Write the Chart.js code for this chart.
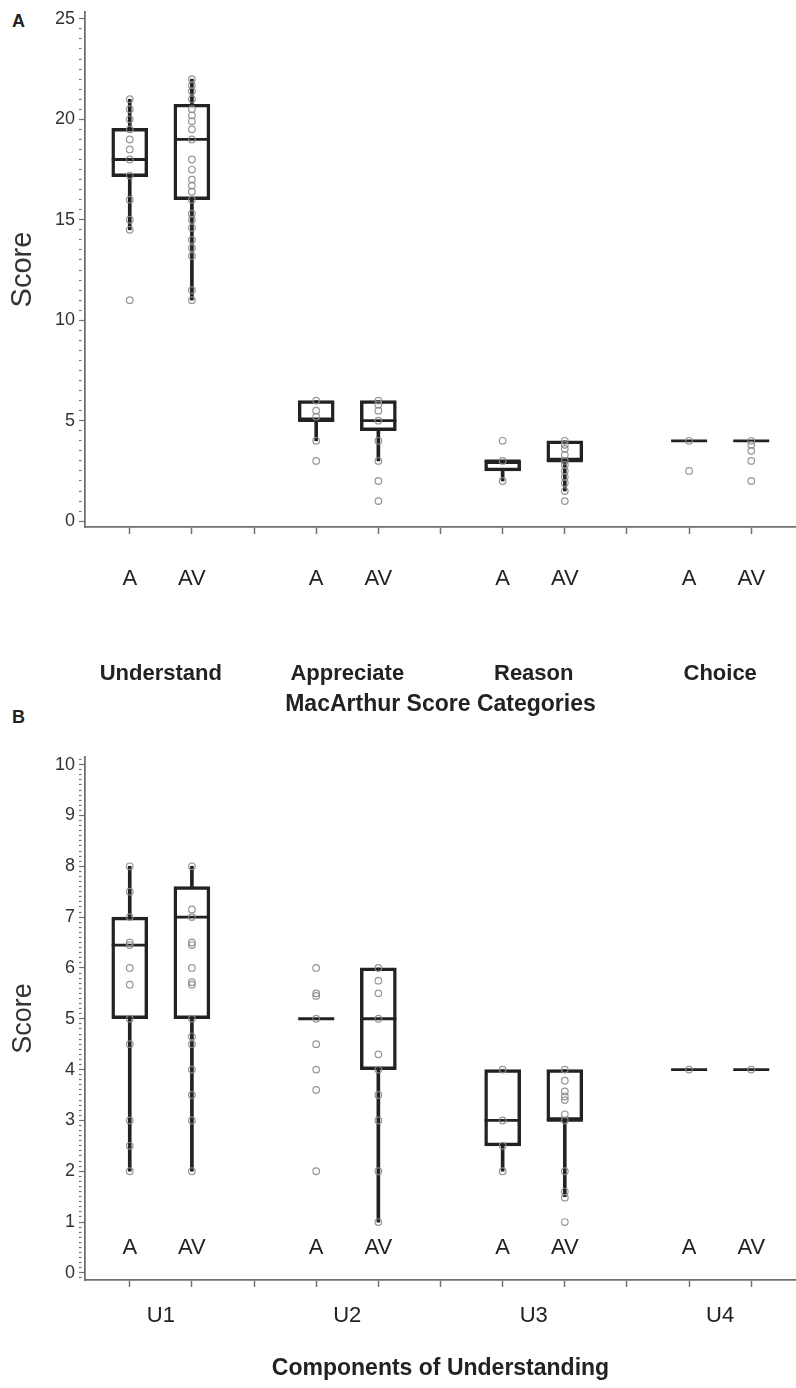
<!DOCTYPE html>
<html>
<head>
<meta charset="utf-8">
<script src="https://cdn.jsdelivr.net/npm/chart.js@4.4.0/dist/chart.umd.min.js"></script>
<style>
  body { margin: 0; background: #fff; width: 796px; height: 1388px; position: relative; overflow: hidden; font-family: "Liberation Sans", Arial, sans-serif; }
  canvas { position: absolute; left: 0; }
  .tag { position: absolute; left: 12px; font-weight: bold; font-size: 18px; color: #222; }
</style>
</head>
<body>
<div class="tag" style="top:11px">A</div>
<div class="tag" style="top:707px">B</div>
<canvas id="chartA" width="796" height="730" style="top:-10px"></canvas>
<canvas id="chartB" width="796" height="688" style="top:700px"></canvas>

<script>
// arms within each group
var armLabels = ['A', 'AV'];

// panel A - MacArthur categories
var groupsA = ['Understand', 'Appreciate', 'Reason', 'Choice'];
var q1A  = [17.15, 16.0, 5, 4.5, 2.5, 3, 4, 4];
var medA = [18, 19, 5, 5, 3, 3, 4, 4];
var q3A  = [19.55, 20.75, 6, 6, 3, 4, 4, 4];
var loA  = [14.5, 11, 4, 3, 2, 1.5, 4, 4];
var hiA  = [21, 22, 6, 6, 3, 4, 4, 4];
var ptsA = [
    [21, 20.5, 20, 19.5, 19, 18.5, 18, 17.2, 16, 15, 14.5, 11],
    [22, 21.7, 21.4, 21, 20.5, 20.2, 19.9, 19.5, 19, 18, 17.5, 17, 16.7, 16.4, 16, 15.3, 15, 14.6, 14, 13.6, 13.2, 11.5, 11],
    [6, 5.5, 5.2, 4, 3],
    [6, 5.8, 5.5, 5, 4, 3, 2, 1],
    [4, 3, 2],
    [4, 3.8, 3.6, 3.3, 3, 2.8, 2.5, 2.2, 1.9, 1.5, 1],
    [4, 2.5],
    [4, 3.8, 3.5, 3, 2]
];

// panel B - components of understanding
var groupsB = ['U1', 'U2', 'U3', 'U4'];
var q1B  = [5, 5, 5, 4, 2.5, 3, 4, 4];
var medB = [6.45, 7, 5, 5, 3, 3, 4, 4];
var q3B  = [7, 7.6, 5, 6, 4, 4, 4, 4];
var loB  = [2, 2, 5, 1, 2, 1.5, 4, 4];
var hiB  = [8, 8, 5, 6, 4, 4, 4, 4];
var ptsB = [
    [8, 7.5, 7, 6.5, 6.45, 6, 5.67, 5, 4.5, 3, 2.5, 2],
    [8, 7.15, 7, 6.5, 6.45, 6, 5.72, 5.67, 5, 4.65, 4.5, 4, 3.5, 3, 2],
    [6, 5.5, 5.45, 5, 4.5, 4, 3.6, 2],
    [6, 5.75, 5.5, 5, 4.3, 4, 3.5, 3, 2, 1],
    [4, 3, 2.5, 2],
    [4, 3.78, 3.57, 3.47, 3.4, 3.12, 3, 2, 1.6, 1.48, 1],
    [4],
    [4]
];

var FONT = '"Liberation Sans", Arial, sans-serif';
var INK = '#222';
var AXIS = '#707070';

// slot on the x axis: groups of 2 boxes with an empty slot between groups
function slotOf(i) {
    return Math.floor(i / 2) * 3 + (i % 2) + 1;
}

function isMultiple(v, step) {
    return Math.abs(v / step - Math.round(v / step)) < 1e-6;
}

// keep the plot area where we put it, whatever the labels want
function noPadding(s) {
    s.paddingLeft = 0;
    s.paddingRight = 0;
    s.paddingTop = 0;
    s.paddingBottom = 0;
}

// draws the A / AV labels inside the plot area (panel B)
var innerLabels = {
    id: 'innerLabels',
    afterDatasetsDraw: function (chart) {
        var ctx = chart.ctx;
        var x = chart.scales.x, y = chart.scales.y;
        ctx.save();
        ctx.font = '22px ' + FONT;
        ctx.fillStyle = INK;
        ctx.textAlign = 'center';
        ctx.textBaseline = 'middle';
        for (var i = 0; i < 8; i++) {
            ctx.fillText(armLabels[i % 2], x.getPixelForValue(slotOf(i)), y.getPixelForValue(0.5));
        }
        ctx.restore();
    }
};

function buildChart(id, p) {
    var boxes = [], medians = [], lower = [], upper = [], points = [];
    for (var i = 0; i < 8; i++) {
        var s = slotOf(i);
        boxes.push({ x: s, y: [p.q1[i], p.q3[i]] });
        medians.push({ x: s, y: p.med[i] });
        lower.push({ x: s, y: [p.lo[i], p.q1[i]] });
        upper.push({ x: s, y: [p.q3[i], p.hi[i]] });
        p.pts[i].forEach(function (v) {
            points.push({ x: s, y: v });
        });
    }

    var xRange = { min: 0.28, max: 11.72 };

    return new Chart(document.getElementById(id).getContext('2d'), {
        type: 'bar',
        data: {
            datasets: [
                {
                    type: 'scatter',
                    data: points,
                    pointStyle: 'circle',
                    pointRadius: 3.3,
                    borderWidth: 1.2,
                    borderColor: 'rgba(140,140,140,0.9)',
                    backgroundColor: 'rgba(0,0,0,0)',
                    order: 0
                },
                {
                    type: 'scatter',
                    data: medians,
                    pointStyle: 'line',
                    pointRadius: 18,
                    borderWidth: 2.8,
                    borderColor: INK,
                    order: 1
                },
                {
                    data: boxes,
                    barThickness: 36,
                    grouped: false,
                    borderWidth: 2.8,
                    borderSkipped: false,
                    borderColor: INK,
                    backgroundColor: 'rgba(0,0,0,0)',
                    order: 2
                },
                {
                    data: lower,
                    barThickness: 3,
                    grouped: false,
                    borderWidth: 0,
                    backgroundColor: INK,
                    order: 3
                },
                {
                    data: upper,
                    barThickness: 3,
                    grouped: false,
                    borderWidth: 0,
                    backgroundColor: INK,
                    order: 3
                }
            ]
        },
        options: {
            responsive: false,
            animation: false,
            layout: { autoPadding: false, padding: { top: p.padTop, left: 0, right: 0, bottom: 0 } },
            plugins: {
                legend: { display: false },
                tooltip: { enabled: false }
            },
            scales: {
                x: {
                    type: 'linear',
                    min: xRange.min,
                    max: xRange.max,
                    offset: false,
                    weight: 0,
                    afterFit: function (s) { s.height = p.xHeight; noPadding(s); },
                    border: { color: AXIS, width: 1.8 },
                    grid: { drawOnChartArea: false, offset: false, tickLength: 7, tickColor: AXIS, tickWidth: 1.5 },
                    ticks: {
                        stepSize: 1,
                        includeBounds: false,
                        autoSkip: false,
                        maxRotation: 0,
                        padding: p.xPad,
                        color: INK,
                        font: { family: FONT, size: 22 },
                        callback: function (v) {
                            if (!p.armTicks) return '';
                            var k = Math.round(v) - 1;
                            return k % 3 === 2 ? '' : armLabels[k % 3];
                        }
                    }
                },
                x2: {
                    type: 'linear',
                    position: 'bottom',
                    min: xRange.min,
                    max: xRange.max,
                    offset: false,
                    weight: 1,
                    afterFit: function (s) { s.height = p.x2Height; noPadding(s); },
                    afterBuildTicks: function (s) {
                        s.ticks = p.groups.map(function (g, i) { return { value: i * 3 + 1.5 }; });
                    },
                    border: { display: false },
                    grid: { display: false, drawTicks: false },
                    ticks: {
                        autoSkip: false,
                        maxRotation: 0,
                        padding: p.x2Pad,
                        color: INK,
                        font: p.groupFont,
                        callback: function (v, i) { return p.groups[i]; }
                    },
                    title: {
                        display: true,
                        text: p.xTitle,
                        color: INK,
                        font: { family: FONT, size: 23, weight: 'bold' },
                        padding: { top: 0, bottom: p.titlePad }
                    }
                },
                y: {
                    type: 'linear',
                    min: p.yMin,
                    max: p.yMax,
                    afterFit: function (s) { s.width = 85; noPadding(s); },
                    border: { color: AXIS, width: 1.8 },
                    grid: {
                        drawOnChartArea: false,
                        tickLength: 6,
                        tickColor: AXIS,
                        tickWidth: 1.2,
                        tickBorderDash: function (ctx) {
                            return ctx.tick && isMultiple(ctx.tick.value, p.major) ? [] : [2.5, 20];
                        }
                    },
                    ticks: {
                        stepSize: p.minor,
                        includeBounds: false,
                        autoSkip: false,
                        padding: 4,
                        color: '#333',
                        font: { family: FONT, size: 18 },
                        callback: function (v) {
                            return isMultiple(v, p.major) ? Math.round(v) : '';
                        }
                    },
                    title: {
                        display: true,
                        text: 'Score',
                        color: '#333',
                        font: { family: FONT, size: p.scoreSize },
                        padding: { top: p.scorePad, bottom: 0 }
                    }
                }
            }
        },
        plugins: p.armTicks ? [] : [innerLabels]
    });
}

var chartA = buildChart('chartA', {
    q1: q1A, med: medA, q3: q3A, lo: loA, hi: hiA, pts: ptsA,
    groups: groupsA, xTitle: 'MacArthur Score Categories',
    groupFont: { family: FONT, size: 22, weight: 'bold' },
    yMin: -0.29, yMax: 25.34, major: 5, minor: 0.5,
    padTop: 22, xHeight: 83, x2Height: 110, xPad: 32, x2Pad: 51, titlePad: 2,
    armTicks: true, scoreSize: 29, scorePad: 6
});

var chartB = buildChart('chartB', {
    q1: q1B, med: medB, q3: q3B, lo: loB, hi: hiB, pts: ptsB,
    groups: groupsB, xTitle: 'Components of Understanding',
    groupFont: { family: FONT, size: 22 },
    yMin: -0.14, yMax: 10.15, major: 1, minor: 0.1,
    padTop: 57, xHeight: 10, x2Height: 98, xPad: 0, x2Pad: 13, titlePad: 6,
    armTicks: false, scoreSize: 27, scorePad: 7
});
</script>
</body>
</html>
